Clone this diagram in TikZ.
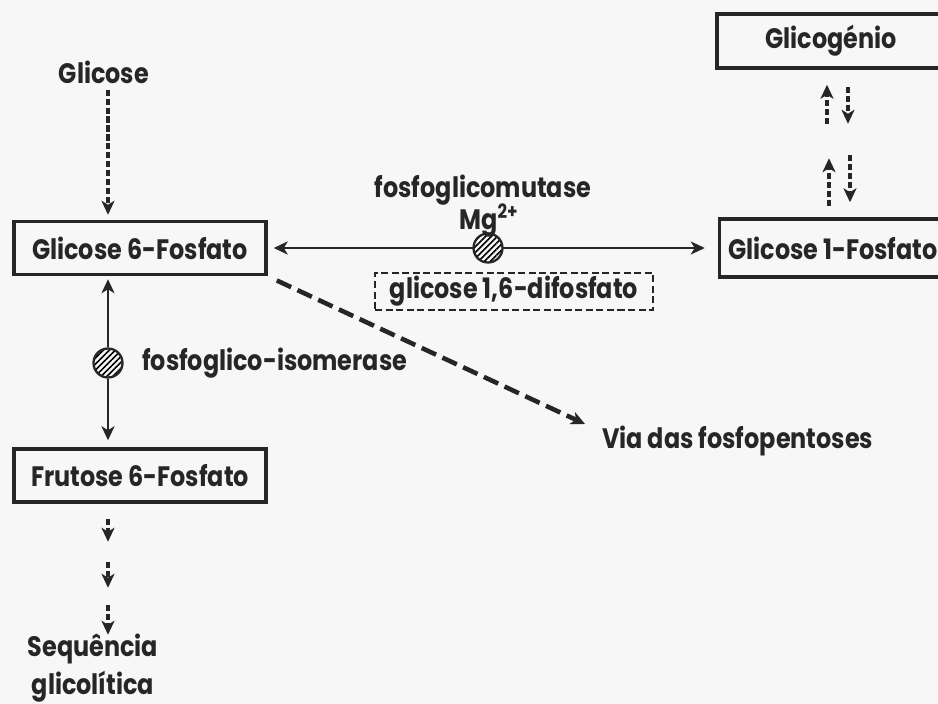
\documentclass[tikz,border=0pt]{standalone}
\usepackage{fontspec}
\setmainfont{Poppins}[FakeStretch=0.85]
\usetikzlibrary{arrows.meta, patterns.meta}

\tikzset{
  ponta/.tip={Stealth[length=0.28cm, width=0.26cm, inset=0.08cm]},
  caixa/.style={draw, line width=2pt, minimum height=1.06cm, inner sep=0pt},
  caixatr/.style={draw, line width=1.3pt, dash pattern=on 4pt off 2pt, inner sep=0pt},
  enzima/.style={circle, draw, line width=1.3pt, minimum size=0.58cm, inner sep=0pt,
    pattern={Lines[angle=45,distance=2.4pt,line width=0.9pt]}},
  seta/.style={line width=1.3pt},
  tracejada/.style={-ponta, line width=2pt, dash pattern=on 3.5pt off 1.6pt},
  tracejadagrossa/.style={-ponta, line width=2.6pt, dash pattern=on 9pt off 4pt},
}

\begin{document}
\begin{tikzpicture}[x=0.02cm, y=-0.02cm, draw=black!85, text=black!85,
    font=\fontsize{16}{21.6}\selectfont\bfseries]
  \useasboundingbox (0,0) rectangle (938,704);
  \fill[black!3] (0,0) rectangle (938,704);
  \clip (0,0) rectangle (938,704);

  \node (glicose) at (104,72) {Glicose};
  \node[caixa, minimum width=5.04cm] (g6p) at (140,248) {Glicose 6-Fosfato};
  \node[caixa, minimum width=5.04cm] (f6p) at (140,475.5) {Frutose 6-Fosfato};
  \node[caixa, minimum width=4.56cm, minimum height=1.08cm] (glicogenio) at (831,41) {Glicogénio};
  \node[caixa, minimum width=4.54cm, minimum height=1.16cm] (g1p) at (833,248) {Glicose 1-Fosfato};
  \node[caixatr, minimum width=5.56cm, minimum height=0.74cm] (g16dp) at (514,291.5) {glicose 1,6-difosfato};

  \node[enzima] (mutase) at (488,248) {};
  \node[inner sep=0pt] (lmutase) at (483,190) {fosfoglicomutase};
  \node[inner sep=0pt] (mg) at (489,221) {Mg\textsuperscript{2+}};
  \node[enzima] (isomerase) at (108,363) {};
  \node[anchor=west] (liso) at (136,363) {fosfoglico-isomerase};

  \node[anchor=west] (via) at (596,441) {Via das fosfopentoses};
  \coordinate (pontavia) at (585,424);
  \node[align=center, inner sep=0pt] (seq) at (93,668) {Sequência\\glicolítica};
  \coordinate (baixo) at (isomerase |- f6p.south);

  \draw[tracejada, shorten >=0.1cm] (glicose.south -| isomerase) -- (isomerase |- g6p.north);
  \draw[seta, ponta-, shorten <=0.12cm] (g6p.east) -- (mutase);
  \draw[seta, -ponta, shorten >=0.26cm] (mutase) -- (g1p.west);
  \draw[seta, ponta-, shorten <=0.06cm] (isomerase |- g6p.south) -- (isomerase);
  \draw[seta, -ponta, shorten >=0.14cm] (isomerase) -- (isomerase |- f6p.north);
  \draw[tracejadagrossa, shorten <=0.2cm] (g6p.south east) -- (pontavia);

  \draw[tracejada] ([shift={(-4,54)}]glicogenio.south) -- ([shift={(-4,15)}]glicogenio.south);
  \draw[tracejada] ([shift={(17,17)}]glicogenio.south) -- ([shift={(17,54)}]glicogenio.south);
  \draw[tracejada] ([shift={(-4,-11)}]g1p.north) -- ([shift={(-4,-59)}]g1p.north);
  \draw[tracejada] ([shift={(17,-62)}]g1p.north) -- ([shift={(17,-15)}]g1p.north);

  \foreach \a/\b in {15/38, 58/84, 101/131}
    \draw[tracejada] ([shift={(0,\a)}]baixo) -- ([shift={(0,\b)}]baixo);
\end{tikzpicture}
\end{document}
